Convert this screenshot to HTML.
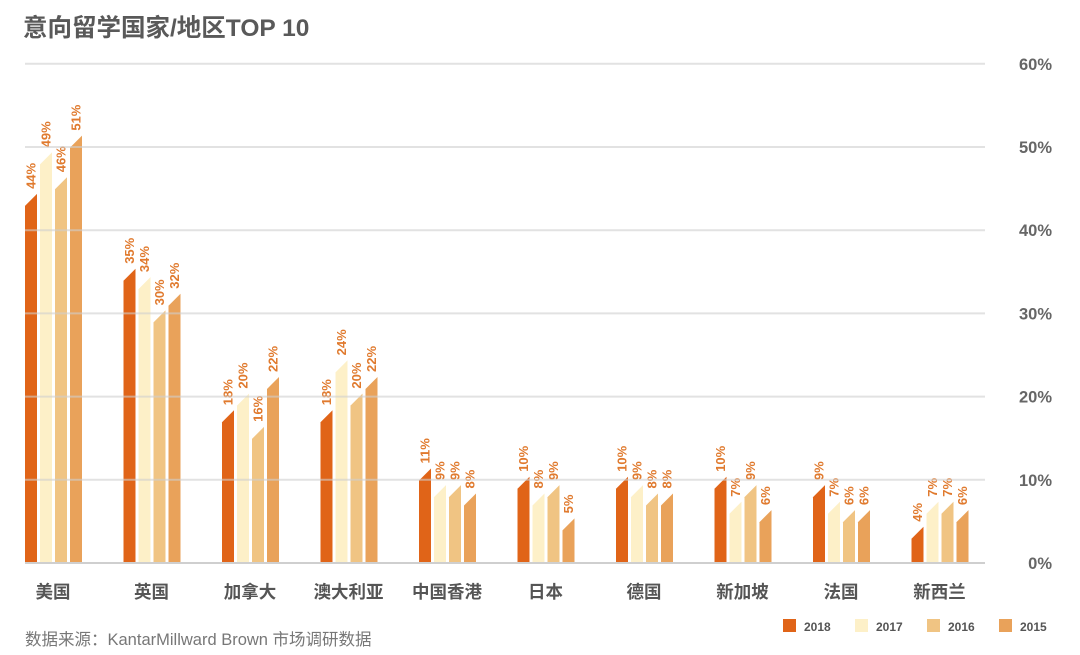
<!DOCTYPE html>
<html><head><meta charset="utf-8">
<style>
body{margin:0;background:#fff;}
svg{display:block;font-family:"Liberation Sans","Noto Sans CJK SC",sans-serif;}
</style></head>
<body>
<svg id="c" width="1080" height="655" viewBox="0 0 1080 655" xmlns="http://www.w3.org/2000/svg">
<text x="23" y="36" font-size="24.5" font-weight="bold" fill="#595959">意向留学国家/地区TOP 10</text>
<text x="25" y="645" font-size="16.5" fill="#777">数据来源：KantarMillward Brown 市场调研数据</text>
</svg>
<script>
var s=document.getElementById('c'),NS='http://www.w3.org/2000/svg';
function el(t,a,txt){var e=document.createElementNS(NS,t);for(var k in a)e.setAttribute(k,a[k]);if(txt!=null)e.textContent=txt;s.appendChild(e);return e;}
var base=563,u=8.32;
var cols=['#e06418','#fdf0c8','#f0c483','#e9a25a'];
var cats=['美国','英国','加拿大','澳大利亚','中国香港','日本','德国','新加坡','法国','新西兰'];
var d=[[44,49,46,51],[35,34,30,32],[18,20,16,22],[18,24,20,22],[11,9,9,8],[10,8,9,5],[10,9,8,8],[10,7,9,6],[9,7,6,6],[4,7,7,6]];
for(var g=0;g<10;g++){var x0=25+g*98.5;
for(var b=0;b<4;b++){var x=x0+b*15,w=12,t=base-d[g][b]*u-3;
el('polygon',{points:x+','+base+' '+x+','+(t+12)+' '+(x+w)+','+t+' '+(x+w)+','+base,fill:cols[b]});
var tx=x+w/2+4.5,ty=t-5;
el('text',{x:tx,y:ty,'font-size':13,'font-weight':'bold',fill:'#e07a2e',transform:'rotate(-90 '+tx+' '+ty+')'},d[g][b]+'%');}
el('text',{x:x0+28,y:598,'text-anchor':'middle','font-size':17.5,'font-weight':'bold',fill:'#555'},cats[g]);}
for(var i=0;i<=6;i++){var y=base-i*10*u;el('line',{x1:25,x2:985,y1:y,y2:y,stroke:'#cfcfcf','stroke-width':2,'stroke-opacity':i==0?1:0.6});
el('text',{x:1052,y:y+6,'text-anchor':'end','font-size':16.5,'font-weight':'bold',fill:'#666'},(i*10)+'%');}
var lx=[783,855,927,999],ly=['2018','2017','2016','2015'];
for(var i=0;i<4;i++){el('rect',{x:lx[i],y:619,width:13,height:13,fill:cols[i]});
el('text',{x:lx[i]+21,y:631,'font-size':12,'font-weight':'bold',fill:'#555'},ly[i]);}
</script>
</body></html>
